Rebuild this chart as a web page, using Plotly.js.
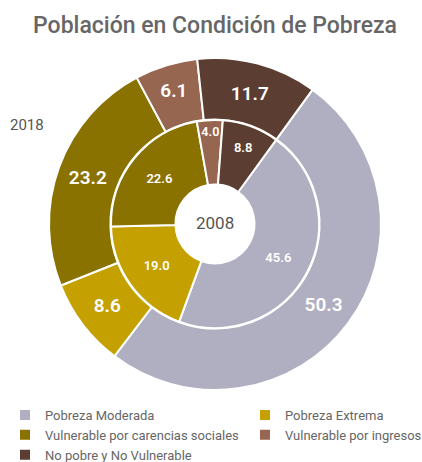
<!DOCTYPE html>
<html>
<head>
<meta charset="utf-8">
<script src="https://cdn.plot.ly/plotly-3.0.1.min.js"></script>
<style>
html,body{margin:0;padding:0;background:#fff;overflow:hidden;}
#wrap{width:422px;height:462px;overflow:hidden;position:relative;}
</style>
</head>
<body>
<div id="wrap"><div id="chart"></div></div>
<script>
var categories = ["Pobreza Moderada", "Pobreza Extrema", "Vulnerable por carencias sociales", "Vulnerable por ingresos", "No pobre y No Vulnerable"];
var values2018 = [50.3, 8.6, 23.2, 6.1, 11.7];
var values2008 = [45.6, 19.0, 22.6, 4.0, 8.8];
var colors = ["#b0aec1", "#c4a001", "#8a7200", "#966651", "#5b3d31"];

var FONT = "Roboto, 'Liberation Sans', sans-serif";
var W = 480, H = 462;  // paper is wider than the 422px window so the legend fits two columns

var outer = {
  type: "pie",
  name: "2018",
  labels: categories,
  values: values2018,
  sort: false,
  direction: "clockwise",
  rotation: 36,
  hole: 0.63,
  domain: {x: [49/W, 381/W], y: [1 - 390/H, 1 - 58/H]},
  marker: {colors: colors, line: {color: "#ffffff", width: 2}},
  texttemplate: "%{value:.1f}",
  textposition: "inside",
  insidetextorientation: "horizontal",
  textfont: {family: FONT, size: 19, color: "#ffffff", weight: 600},
  showlegend: true,
  hoverinfo: "label+value"
};
var inner = {
  type: "pie",
  name: "2008",
  labels: categories,
  values: values2008,
  sort: false,
  direction: "clockwise",
  rotation: 36,
  hole: 0.38,
  domain: {x: [111/W, 319/W], y: [1 - 328/H, 1 - 120/H]},
  marker: {colors: colors, line: {color: "#ffffff", width: 2}},
  texttemplate: "%{value:.1f}",
  textposition: "inside",
  insidetextorientation: "horizontal",
  textfont: {family: FONT, size: 13, color: "#ffffff", weight: 600},
  showlegend: false,
  hoverinfo: "label+value"
};

var layout = {
  width: W,
  height: H,
  margin: {l: 0, r: 0, t: 0, b: 0, autoexpand: false},
  paper_bgcolor: "#ffffff",
  title: {
    text: "Población en Condición de Pobreza",
    font: {family: FONT, size: 23, color: "#666666", weight: 500},
    x: 215/W, xanchor: "center", y: 1 - 25/H, yanchor: "middle"
  },
  showlegend: true,
  legend: {
    orientation: "h",
    x: 5/W, xanchor: "left",
    y: 1 - 400/H, yanchor: "top",
    font: {family: FONT, size: 13, color: "#666666"},
    entrywidth: 195,
    traceorder: "normal"
  },
  annotations: [
    {text: "2018", x: 8/W, y: 1 - 125/H, xref: "paper", yref: "paper", xanchor: "left", yanchor: "middle", showarrow: false, font: {family: FONT, size: 15, color: "#555555"}},
    {text: "2008", x: 215/W, y: 1 - 223/H, xref: "paper", yref: "paper", xanchor: "center", yanchor: "middle", showarrow: false, font: {family: FONT, size: 17, color: "#555555"}}
  ]
};

Plotly.newPlot("chart", [outer, inner], layout, {displayModeBar: false, staticPlot: true});
</script>
</body>
</html>
